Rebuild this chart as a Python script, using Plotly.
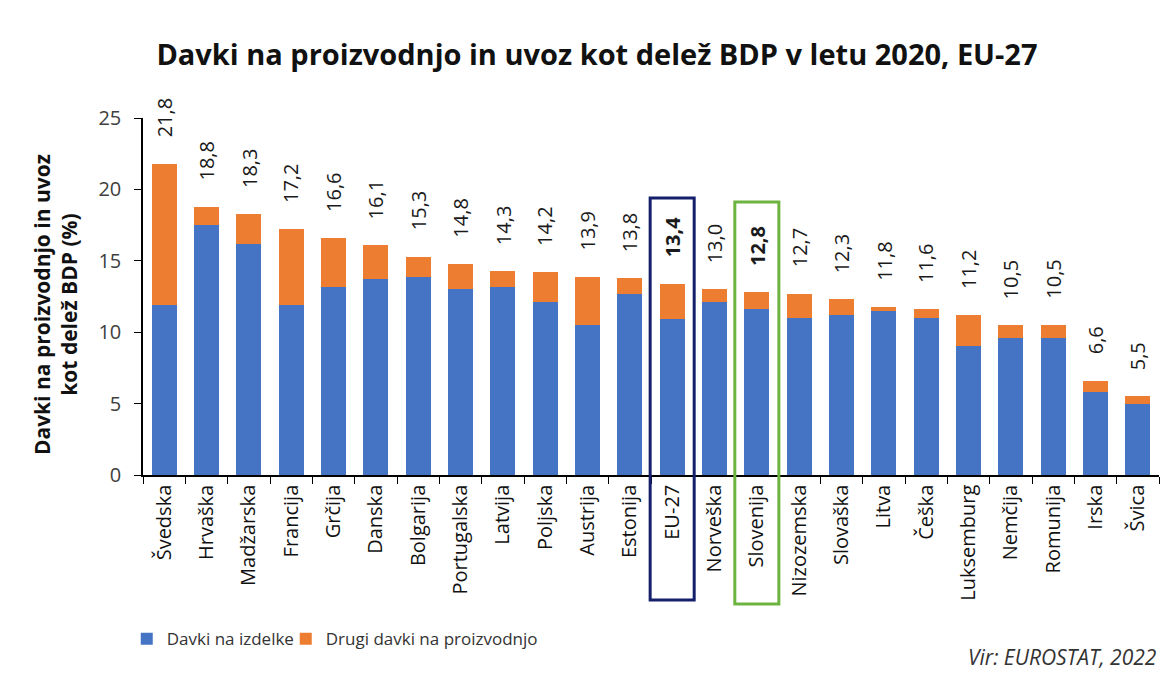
import plotly.graph_objects as go

categories = ["Švedska", "Hrvaška", "Madžarska", "Francija", "Grčija", "Danska",
              "Bolgarija", "Portugalska", "Latvija", "Poljska", "Austrija", "Estonija",
              "EU-27", "Norveška", "Slovenija", "Nizozemska", "Slovaška", "Litva",
              "Češka", "Luksemburg", "Nemčija", "Romunija", "Irska", "Švica"]
davki_na_izdelke = [11.9, 17.5, 16.2, 11.9, 13.2, 13.7, 13.9, 13.0, 13.2, 12.1, 10.5, 12.7,
                    10.9, 12.1, 11.6, 11.0, 11.2, 11.5, 11.0, 9.0, 9.6, 9.6, 5.8, 5.0]
drugi_davki = [9.9, 1.3, 2.1, 5.3, 3.4, 2.4, 1.4, 1.8, 1.1, 2.1, 3.4, 1.1,
               2.5, 0.9, 1.2, 1.7, 1.1, 0.3, 0.6, 2.2, 0.9, 0.9, 0.8, 0.5]
skupaj = [21.8, 18.8, 18.3, 17.2, 16.6, 16.1, 15.3, 14.8, 14.3, 14.2, 13.9, 13.8,
          13.4, 13.0, 12.8, 12.7, 12.3, 11.8, 11.6, 11.2, 10.5, 10.5, 6.6, 5.5]
highlight = ["EU-27", "Slovenija"]

FONT = "Open Sans"
BLUE = "#4674C5"
ORANGE = "#ED7D31"

fig = go.Figure()
fig.add_trace(go.Bar(x=categories, y=davki_na_izdelke, name="Davki na izdelke",
                     marker=dict(color=BLUE, line=dict(width=0)), legend="legend",
                     showlegend=True))
fig.add_trace(go.Bar(x=categories, y=drugi_davki, name="Drugi davki na proizvodnjo",
                     marker=dict(color=ORANGE, line=dict(width=0)), legend="legend2",
                     showlegend=True))

for c, t in zip(categories, skupaj):
    lab = f"{t:.1f}".replace(".", ",")
    if c in highlight:
        lab = f"<b>{lab}</b>"
    fig.add_annotation(x=c, y=t, text=lab, textangle=-90, showarrow=False,
                       xanchor="center", yanchor="bottom", yshift=24,
                       font=dict(family=FONT, size=20, color="#1a1a1a"))

# highlight boxes
for c, col in [("EU-27", "#14206B"), ("Slovenija", "#6DB33F")]:
    i = categories.index(c)
    top = 0.776 if c == "EU-27" else 0.765
    bot = -0.35 if c == "EU-27" else -0.361
    fig.add_shape(type="rect", xref="x", yref="paper", x0=i - 0.52, x1=i + 0.52,
                  y0=bot, y1=top, line=dict(color=col, width=3), fillcolor="rgba(0,0,0,0)")

fig.add_annotation(xref="paper", yref="paper", x=-0.0866, y=0.476,
                   text="<b>Davki na proizvodnjo in uvoz<br>kot delež BDP (%)</b>",
                   textangle=-90, showarrow=False, xanchor="center", yanchor="middle",
                   font=dict(family=FONT, size=21, color="#111111"))

fig.add_annotation(xref="paper", yref="paper", x=1.0, y=-0.51,
                   text="<i>Vir: EUROSTAT, 2022</i>", showarrow=False,
                   xanchor="right", yanchor="middle",
                   font=dict(family=FONT, size=21, color="#333333"))

legend_style = dict(orientation="h", yanchor="middle", y=-0.46, xanchor="left",
                    font=dict(family=FONT, size=17, color="#333333"), itemwidth=30,
                    bgcolor="rgba(0,0,0,0)", visible=True)

# page body has an 8px margin; size the figure to fit the 1172x682 window
fig.update_layout(
    width=1164, height=674,
    margin=dict(l=135, r=13, t=110, b=207),
    paper_bgcolor="white", plot_bgcolor="white",
    barmode="stack", bargap=0.41, showlegend=True,
    title=dict(text="<b>Davki na proizvodnjo in uvoz kot delež BDP v letu 2020, EU-27</b>",
               x=0.506, xanchor="center", y=0.930, yanchor="middle",
               font=dict(family=FONT, size=29, color="#111111")),
    legend=dict(x=-0.016, **legend_style),
    legend2=dict(x=0.1405, **legend_style),
    font=dict(family=FONT),
)
fig.update_xaxes(showline=True, linecolor="black", linewidth=1.5, ticks="outside",
                 tickson="boundaries", ticklen=7, tickcolor="black", tickangle=-90,
                 tickfont=dict(family=FONT, size=20, color="#111111"), showgrid=False)
fig.update_yaxes(range=[0, 25], dtick=5, showline=True, linecolor="black", linewidth=1.5,
                 ticks="outside", ticklen=7, tickcolor="black", showgrid=False,
                 ticklabelstandoff=9,
                 tickfont=dict(family=FONT, size=20, color="#404040"), zeroline=False)

fig.write_html("out.html")
